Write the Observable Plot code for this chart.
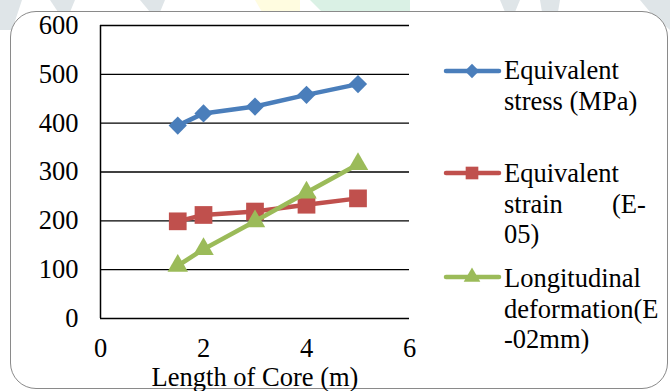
<!DOCTYPE html>
<html>
<head>
<meta charset="utf-8">
<script src="https://cdn.jsdelivr.net/npm/d3@7"></script>
<script src="https://cdn.jsdelivr.net/npm/@observablehq/plot@0.6"></script>
<style>
  html, body { margin: 0; padding: 0; background: #fff; }
  #wrap { position: relative; width: 670px; height: 391px; overflow: hidden; font-family: "Liberation Serif", "Times New Roman", serif; }
  #bg { position: absolute; left: 0; top: 0; width: 670px; height: 391px; }
  #frame { position: absolute; left: 10px; top: 11px; width: 658px; height: 378px; border: 1.5px solid #8a8a8a; border-radius: 26px; background: #fff; box-sizing: border-box; }
  #chart { position: absolute; left: 0; top: 0; }
  #legend { position: absolute; left: 0; top: 0; width: 670px; height: 391px; pointer-events: none; }
  #legend text { font-family: "Liberation Serif", "Times New Roman", serif; font-size: 26.5px; fill: #000; }
</style>
</head>
<body>
<div id="wrap">
  <svg id="bg" width="670" height="391">
    <polygon points="0,0 22,0 12,30 0,30" fill="#dfe5e8"/>
    <polygon points="50,0 75,0 70,12 58,12" fill="#dfe5e8"/>
    <polygon points="140,0 165,0 160,12 150,12" fill="#dfe5e8"/>
    <polygon points="255,0 300,0 300,12 262,12" fill="#fffce0"/>
    <polygon points="310,0 410,0 410,12 322,12" fill="#daf1e5"/>
    <polygon points="500,0 520,0 515,12 505,12" fill="#dfe5e8"/>
    <polygon points="540,0 560,0 558,12 542,12" fill="#dfe5e8"/>
    <polygon points="640,0 670,0 670,30 650,12" fill="#dfe5e8"/>
  </svg>
  <div id="frame"></div>
  <div id="chart"></div>
  <div id="legend"></div>
</div>
<script>
// ---- data ----
const lengths = [1.5, 2, 3, 4, 5];
const stress = [395, 420, 434, 458, 480];
const strain = [199, 212, 219, 233, 246];
const deformation = [108, 142, 199, 258, 316];
const seriesNames = ["Equivalent stress (MPa)", "Equivalent strain (E-05)", "Longitudinal deformation(E-02mm)"];
const seriesColors = ["#4a7ebb", "#c0504d", "#9bbb59"];
const seriesSymbols = ["diamond2", "square", "triangle"];
const seriesR = [8.2, 10, 7.6];
const xTicks = [0, 2, 4, 6];
const yTicks = [0, 100, 200, 300, 400, 500, 600];

const seriesValues = [stress, strain, deformation];
const table = seriesValues.map((vals, i) => lengths.map((x, j) => ({x, y: vals[j], s: seriesNames[i]})));

const marks = [
  Plot.ruleY(yTicks, {stroke: "#000", strokeWidth: 1.3}),
  Plot.ruleX([0], {stroke: "#000", strokeWidth: 1.5}),
  Plot.axisY({ticks: yTicks, tickFormat: d3.format("d"), tickSize: 0, tickPadding: 22, fontSize: 26.5, label: null}),
  Plot.axisX({ticks: xTicks, tickFormat: d3.format("d"), tickSize: 0, tickPadding: 20, fontSize: 26.5, label: "Length of Core (m)", labelAnchor: "center", labelArrow: "none", labelOffset: 67})
];
table.forEach((rows, i) => {
  marks.push(Plot.line(rows, {x: "x", y: "y", stroke: seriesColors[i], strokeWidth: 4.5}));
  marks.push(Plot.dot(rows, {x: "x", y: "y", fill: seriesColors[i], stroke: "none", symbol: () => seriesSymbols[i], r: seriesR[i]}));
});

const chart = Plot.plot({
  width: 670,
  height: 391,
  marginLeft: 100,
  marginRight: 261,
  marginTop: 25,
  marginBottom: 73,
  style: {fontFamily: "'Liberation Serif', 'Times New Roman', serif", fontSize: "26.5px", color: "#000", background: "transparent", overflow: "visible"},
  x: {domain: [0, 6]},
  y: {domain: [0, 600]},
  symbol: {type: "identity"},
  marks
});
document.getElementById("chart").appendChild(chart);

// ---- legend ----
const legendLines = [
  {lineY: 71, texts: [["Equivalent", 504, 79], ["stress (MPa)", 504, 110]]},
  {lineY: 173, texts: [["Equivalent", 504, 182], ["strain", 504, 213], ["(E-", 612, 213], ["05)", 504, 243]]},
  {lineY: 277, texts: [["Longitudinal", 504, 287], ["deformation(E", 504, 318], ["-02mm)", 504, 348]]}
];
const leg = document.getElementById("legend");
const ns = "http://www.w3.org/2000/svg";
const lsvg = document.createElementNS(ns, "svg");
lsvg.setAttribute("width", 670); lsvg.setAttribute("height", 391);
lsvg.style.position = "absolute"; lsvg.style.left = "0"; lsvg.style.top = "0";
const symSize = [130, 160, 120];
const symTypes = [d3.symbolDiamond2, d3.symbolSquare, d3.symbolTriangle];
legendLines.forEach((L, i) => {
  const ln = document.createElementNS(ns, "line");
  ln.setAttribute("x1", 446); ln.setAttribute("x2", 499);
  ln.setAttribute("y1", L.lineY); ln.setAttribute("y2", L.lineY);
  ln.setAttribute("stroke", seriesColors[i]); ln.setAttribute("stroke-width", 4.5);
  ln.setAttribute("stroke-linecap", "round");
  lsvg.appendChild(ln);
  const p = document.createElementNS(ns, "path");
  p.setAttribute("d", d3.symbol(symTypes[i], symSize[i])());
  p.setAttribute("transform", `translate(472,${L.lineY})`);
  p.setAttribute("fill", seriesColors[i]);
  lsvg.appendChild(p);
  L.texts.forEach(([t, x, y]) => {
    const tx = document.createElementNS(ns, "text");
    tx.setAttribute("x", x); tx.setAttribute("y", y);
    tx.textContent = t;
    lsvg.appendChild(tx);
  });
});
leg.appendChild(lsvg);
</script>
</body>
</html>
